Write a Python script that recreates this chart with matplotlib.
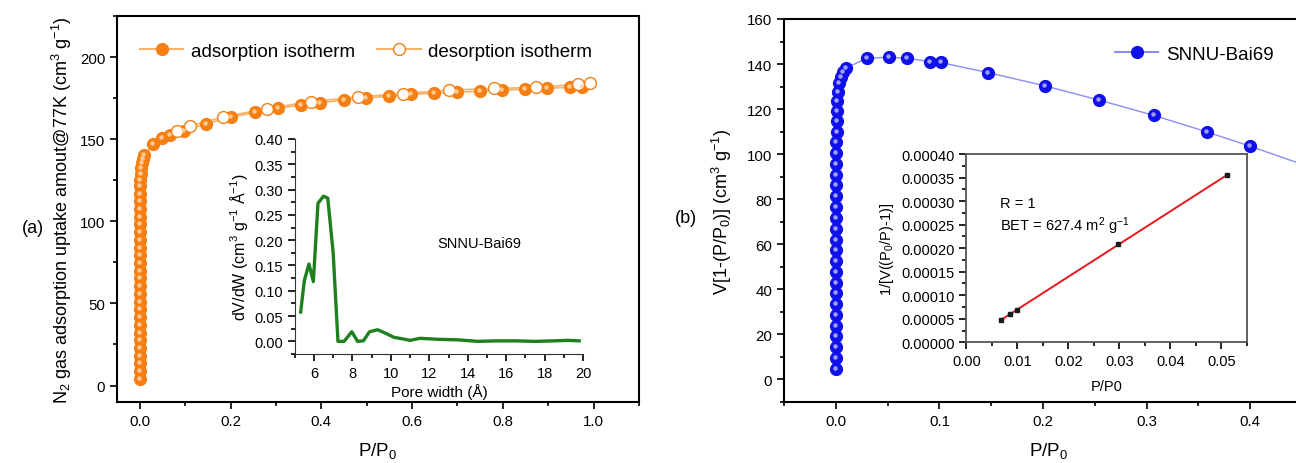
import matplotlib
matplotlib.use("Agg")
import matplotlib.pyplot as plt
import matplotlib.transforms as mtransforms
from matplotlib.ticker import MultipleLocator
import numpy as np

plt.rcParams['font.family'] = ['Liberation Sans', 'DejaVu Sans']
plt.rcParams['mathtext.fontset'] = 'custom'
plt.rcParams['mathtext.rm'] = 'Liberation Sans'
plt.rcParams['mathtext.it'] = 'Liberation Sans'

# N2 isotherm at 77 K
ads_p = [0.0003, 0.0003, 0.0003, 0.0003, 0.0003, 0.0003, 0.0003, 0.0003,
         0.0003, 0.0003, 0.0003, 0.0003, 0.0003, 0.0003, 0.0003, 0.0003,
         0.0004, 0.0004, 0.0004, 0.0004, 0.0005, 0.0005, 0.0006, 0.0007,
         0.0009, 0.0012, 0.0016, 0.0022, 0.003, 0.0045, 0.0065, 0.0095,
         0.030, 0.050, 0.067, 0.097, 0.147, 0.201, 0.253, 0.305, 0.356,
         0.398, 0.449, 0.498, 0.549, 0.598, 0.649, 0.698, 0.749, 0.798,
         0.849, 0.898, 0.948, 0.975]
ads_v = [4.1, 8.8, 13.5, 18.2, 22.9, 27.6, 32.3, 37.0, 41.7, 46.4, 51.1,
         55.8, 60.5, 65.2, 69.9, 74.6, 79.3, 84.0, 88.7, 93.4, 98.1, 102.8,
         107.5, 112.2, 116.8, 121.2, 125.3, 129.0, 132.4, 135.4, 138.0, 140.2,
         147.0, 150.5, 152.8, 155.2, 159.5, 163.3, 166.3, 168.8, 170.8,
         172.1, 173.9, 175.1, 176.1, 177.3, 178.0, 178.6, 179.2, 179.8,
         180.4, 181.0, 181.6, 182.0]
des_p = [0.993, 0.966, 0.874, 0.780, 0.681, 0.580, 0.480, 0.377, 0.281,
         0.183, 0.110, 0.082]
des_v = [184.5, 183.5, 181.5, 180.9, 179.8, 177.8, 175.7, 172.9, 168.6,
         163.5, 158.0, 155.1]

# DFT pore size distribution
pore_w = [5.31, 5.50, 5.74, 5.97, 6.21, 6.50, 6.72, 7.00, 7.25, 7.57, 7.97,
          8.27, 8.57, 8.89, 9.31, 9.73, 10.16, 10.60, 11.00, 11.52, 12.00,
          12.50, 13.50, 14.50, 15.50, 16.50, 17.50, 18.50, 19.20, 19.80]
pore_dv = [0.058, 0.120, 0.153, 0.118, 0.273, 0.287, 0.283, 0.175, 0.000,
           0.000, 0.019, 0.000, 0.001, 0.019, 0.023, 0.016, 0.008, 0.005,
           0.002, 0.006, 0.005, 0.004, 0.003, 0.000, 0.001, 0.001, 0.000,
           0.001, 0.002, 0.001]

# Rouquerol plot V(1-P/P0) vs P/P0
rq_p = [0.0003, 0.0003, 0.0003, 0.0003, 0.0003, 0.0003, 0.0003, 0.0003,
        0.0003, 0.0003, 0.0003, 0.0003, 0.0003, 0.0003, 0.0003, 0.0003,
        0.0003, 0.0004, 0.0004, 0.0004, 0.0005, 0.0005, 0.0006, 0.0007,
        0.0009, 0.0013, 0.0020, 0.003, 0.005, 0.007, 0.010,
        0.030, 0.051, 0.069, 0.091, 0.101, 0.147, 0.202, 0.254, 0.307,
        0.358, 0.400, 0.450, 0.500]
rq_v = [4.5, 9.5, 14.3, 19.2, 23.9, 28.7, 33.4, 38.2, 42.9, 47.8, 52.6,
        57.3, 62.1, 67.0, 71.7, 76.6, 81.4, 86.1, 90.9, 95.7, 100.4, 105.2,
        110.0, 114.7, 119.2, 123.5, 127.6, 131.4, 134.3, 136.5, 138.4,
        142.5, 143.1, 142.5, 141.1, 140.7, 136.2, 130.3, 124.0, 117.2,
        109.9, 103.5, 95.5, 87.0]

# BET linear range
bet_p = [0.0068, 0.0085, 0.0099, 0.0298, 0.0511]
bet_y = [0.0000475, 0.0000595, 0.0000690, 0.000208, 0.000355]

ORANGE = '#f57f12'
ORANGE_LINE = '#f6b26b'
BLUE = '#1010e8'
BLUE_LINE = '#8c8cf5'
GREEN = '#1f801f'


def glossy(ax, x, y, color, hl, ms, **kw):
    ax.plot(x, y, 'o', ms=ms, mfc=color, mec=color, zorder=3, **kw)
    off = mtransforms.offset_copy(ax.transData, fig=ax.figure, x=-1.0, y=1.0, units='dots')
    ax.plot(x, y, 'o', ms=ms * 0.38, mfc=hl, mec='none', alpha=0.85,
            transform=off, zorder=4)


def style_ticks(ax, size=10.8):
    ax.tick_params(which='both', direction='out', top=False, right=False,
                   labelsize=size, width=1.2)
    ax.tick_params(which='major', length=5)
    ax.tick_params(which='minor', length=3)


fig = plt.figure(figsize=(12.96, 4.64), dpi=100)

# ---- (a) isotherm ----
ax1 = fig.add_axes([0.0903, 0.1315, 0.4028, 0.8319])
ax1.plot(ads_p, ads_v, '-', color=ORANGE_LINE, lw=1.2, zorder=2)
ax1.plot(des_p, des_v, '-', color=ORANGE_LINE, lw=1.2, zorder=2)
glossy(ax1, ads_p, ads_v, ORANGE, '#ffd7a8', 8.5)
ax1.plot(des_p, des_v, 'o', ms=8.5, mfc='white', mec=ORANGE, mew=1.0, zorder=3)
ax1.set_xlim(-0.05, 1.1)
ax1.set_ylim(-10, 225)
ax1.xaxis.set_major_locator(MultipleLocator(0.2))
ax1.xaxis.set_minor_locator(MultipleLocator(0.1))
ax1.yaxis.set_major_locator(MultipleLocator(50))
ax1.yaxis.set_minor_locator(MultipleLocator(25))
ax1.xaxis.set_major_formatter('{x:.1f}')
style_ticks(ax1)
for s in ax1.spines.values():
    s.set_linewidth(1.5)
ax1.set_xlabel('P/P$_0$', fontsize=13.5, labelpad=9)
ax1.set_ylabel('N$_2$ gas adsorption uptake amout@77K (cm$^3$ g$^{-1}$)',
               fontsize=13, labelpad=4)

h_ads, = ax1.plot([], [], '-o', color=ORANGE_LINE, ms=8.5, mfc=ORANGE, mec=ORANGE)
h_des, = ax1.plot([], [], '-o', color=ORANGE_LINE, ms=8.5, mfc='white', mec=ORANGE)
ax1.legend([h_ads, h_des], ['adsorption isotherm', 'desorption isotherm'],
           ncol=2, frameon=False, fontsize=13.5, loc='upper left',
           bbox_to_anchor=(0.012, 0.975), handlelength=2.3, columnspacing=1.2,
           handletextpad=0.4)
fig.text(0.017, 0.508, '(a)', fontsize=13, va='center')

# pore size distribution inset
ax1i = fig.add_axes([0.2274, 0.2349, 0.2225, 0.4634])
ax1i.plot(pore_w, pore_dv, '-', color=GREEN, lw=2.4)
ax1i.set_xlim(5, 20)
ax1i.set_ylim(-0.025, 0.40)
ax1i.xaxis.set_major_locator(MultipleLocator(2))
ax1i.xaxis.set_minor_locator(MultipleLocator(1))
ax1i.yaxis.set_major_locator(MultipleLocator(0.05))
ax1i.yaxis.set_minor_locator(MultipleLocator(0.025))
ax1i.yaxis.set_major_formatter('{x:.2f}')
ax1i.spines['top'].set_visible(False)
ax1i.spines['right'].set_visible(False)
for s in ('left', 'bottom'):
    ax1i.spines[s].set_color('#333333')
style_ticks(ax1i, 10.5)
ax1i.patch.set_alpha(0)
ax1i.set_xlabel('Pore width (Å)', fontsize=11, labelpad=2)
ax1i.set_ylabel('dV/dW (cm$^3$ g$^{-1}$ Å$^{-1}$)', fontsize=11.5, labelpad=3)
ax1i.text(14.6, 0.195, 'SNNU-Bai69', fontsize=10.5, ha='center', va='center')

# ---- (b) Rouquerol plot ----
ax2 = fig.add_axes([0.605, 0.1315, 0.4077, 0.8254])
ax2.plot(rq_p, rq_v, '-', color=BLUE_LINE, lw=1.0, zorder=2)
glossy(ax2, rq_p, rq_v, BLUE, '#b8b8ff', 8.5)
ax2.set_xlim(-0.05, 0.46)
ax2.set_ylim(-10, 160)
ax2.xaxis.set_major_locator(MultipleLocator(0.1))
ax2.xaxis.set_minor_locator(MultipleLocator(0.05))
ax2.yaxis.set_major_locator(MultipleLocator(20))
ax2.yaxis.set_minor_locator(MultipleLocator(10))
ax2.xaxis.set_major_formatter('{x:.1f}')
style_ticks(ax2)
for s in ax2.spines.values():
    s.set_linewidth(1.5)
ax2.set_xlabel('P/P$_0$', fontsize=13.5, labelpad=9)
ax2.set_ylabel('V[1-(P/P$_0$)] (cm$^3$ g$^{-1}$)', fontsize=13, labelpad=9)
h_rq, = ax2.plot([], [], '-o', color=BLUE_LINE, ms=8.5, mfc=BLUE, mec=BLUE)
ax2.legend([h_rq], ['SNNU-Bai69'], frameon=False, fontsize=13.5,
           loc='upper left', bbox_to_anchor=(0.595, 0.975), handlelength=2.3,
           handletextpad=0.4)
fig.text(0.521, 0.53, '(b)', fontsize=13, va='center')

# BET fit inset
ax2i = fig.add_axes([0.7457, 0.2601, 0.2163, 0.4058])
slope, icpt = np.polyfit(bet_p, bet_y, 1)
fit_x = np.array([bet_p[0], bet_p[-1]])
ax2i.plot(fit_x, slope * fit_x + icpt, '-', color='#e8161b', lw=1.4)
ax2i.plot(bet_p, bet_y, 's', ms=3.5, color='#1a1a1a', zorder=3)
ax2i.set_xlim(0, 0.055)
ax2i.set_ylim(0, 0.0004)
ax2i.xaxis.set_major_locator(MultipleLocator(0.01))
ax2i.xaxis.set_minor_locator(MultipleLocator(0.005))
ax2i.yaxis.set_major_locator(MultipleLocator(0.00005))
ax2i.yaxis.set_minor_locator(MultipleLocator(0.000025))
ax2i.xaxis.set_major_formatter('{x:.2f}')
ax2i.yaxis.set_major_formatter('{x:.5f}')
for s in ax2i.spines.values():
    s.set_color('#555555')
    s.set_linewidth(1.3)
style_ticks(ax2i, 10.5)
ax2i.set_xlabel('P/P0', fontsize=10.5, labelpad=8)
ax2i.set_ylabel('1/[V((P$_0$/P)-1)]', fontsize=10.5, labelpad=4)
ax2i.text(0.0066, 0.000297, 'R = 1', fontsize=10.5, va='center')
ax2i.text(0.0066, 0.000249, 'BET = 627.4 m$^2$ g$^{-1}$', fontsize=10.5, va='center')

fig.savefig('out.png', dpi=100)
